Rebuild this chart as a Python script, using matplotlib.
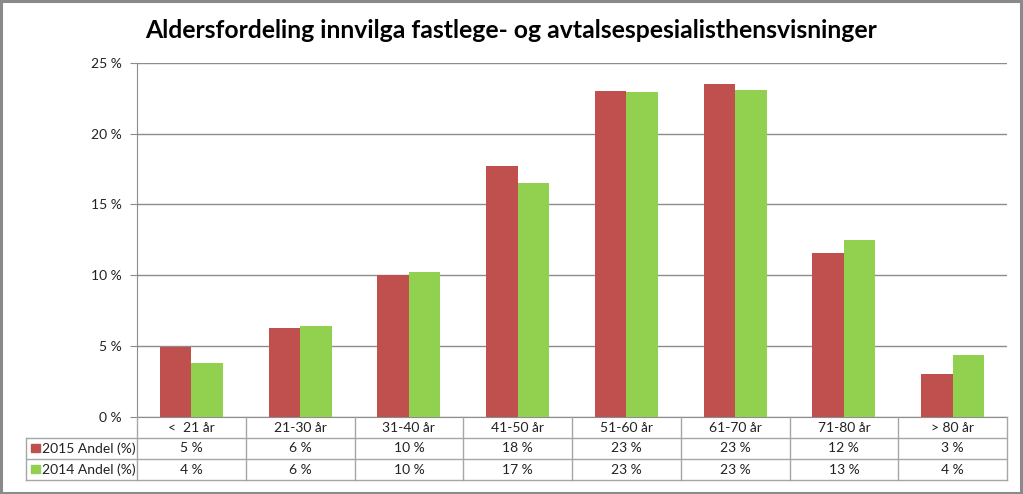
import matplotlib
matplotlib.use("Agg")
import matplotlib.pyplot as plt
from matplotlib.patches import Rectangle
from matplotlib.ticker import FuncFormatter
import numpy as np

plt.rcParams['font.family'] = ['Lato', 'DejaVu Sans']

title = "Aldersfordeling innvilga fastlege- og avtalsespesialisthensvisninger"
categories = ["<  21 år", "21-30 år", "31-40 år", "41-50 år",
              "51-60 år", "61-70 år", "71-80 år", "> 80 år"]
series_names = ["2015 Andel (%)", "2014 Andel (%)"]
andel_2015 = [4.94, 6.26, 10.05, 17.74, 23.01, 23.48, 11.60, 3.01]
andel_2014 = [3.79, 6.45, 10.24, 16.54, 22.94, 23.06, 12.52, 4.40]
colors = ["#C0504D", "#92D050"]

W, H = 1023, 494
fig = plt.figure(figsize=(W / 100, H / 100), dpi=100)

# plot area in pixel coords
x0, x1 = 137, 1007
y_top, y_bot = 62.7, 417
ax = fig.add_axes([x0 / W, 1 - y_bot / H, (x1 - x0) / W, (y_bot - y_top) / H])

n = len(categories)
x = np.arange(n)
bw = 0.29
ax.bar(x - bw / 2, andel_2015, bw, color=colors[0], zorder=3)
ax.bar(x + bw / 2, andel_2014, bw, color=colors[1], zorder=3)

ax.set_xlim(-0.5, n - 0.5)
ax.set_ylim(0, 25)
ax.set_yticks(np.arange(0, 26, 5))
ax.yaxis.set_major_formatter(FuncFormatter(lambda v, p: f"{int(v)} %"))
ax.yaxis.grid(True, color="#8c8c8c", lw=1, zorder=0)
ax.set_xticks([])
for s in ["top", "right"]:
    ax.spines[s].set_visible(False)
ax.spines["left"].set_color("#8c8c8c")
ax.spines["bottom"].set_color("#8c8c8c")
ax.tick_params(axis="y", length=5, color="#8c8c8c", labelsize=10, pad=6,
               labelcolor="#222222")

# data table below the plot
t0 = 26
tax = fig.add_axes([t0 / W, 1 - 480 / H, (x1 - t0) / W, (480 - y_bot) / H])
leg_w = (x0 - t0) / (x1 - x0) * n
tax.set_xlim(-0.5 - leg_w, n - 0.5)
tax.set_ylim(3, 0)
tax.axis("off")
lc = "#a6a6a6"
left = -0.5 - leg_w
# horizontal lines
tax.plot([left, n - 0.5], [1, 1], color=lc, lw=1)
tax.plot([left, n - 0.5], [2, 2], color=lc, lw=1)
tax.plot([left, n - 0.5], [3, 3], color=lc, lw=1, clip_on=False)
# vertical lines
tax.plot([left, left], [1, 3], color=lc, lw=1, clip_on=False)
for b in np.arange(-0.5, n, 1.0):
    tax.plot([b, b], [0, 3], color=lc, lw=1, clip_on=False)

for i, c in enumerate(categories):
    tax.text(i, 0.5, c, ha="center", va="center", fontsize=10, color="#222222")
for r, vals in enumerate([andel_2015, andel_2014]):
    for i, v in enumerate(vals):
        tax.text(i, r + 1.5, f"{int(v + 0.5)} %", ha="center", va="center",
                 fontsize=10, color="#222222")
    tax.add_patch(Rectangle((left + 0.045, r + 1.27), 0.085, 0.42,
                            color=colors[r], clip_on=False))
    tax.text(left + 0.15, r + 1.5, series_names[r], ha="left", va="center",
             fontsize=10, color="#222222")

fig.text(511 / W, 1 - 30 / H, title, ha="center", va="center",
         fontsize=17.8, fontweight="bold", color="black")

fig.add_artist(Rectangle((0.001, 0.002), 0.997, 0.996, transform=fig.transFigure,
                         fill=False, ec="#8a8a8a", lw=2.2))

fig.savefig("out.png", dpi=100)
